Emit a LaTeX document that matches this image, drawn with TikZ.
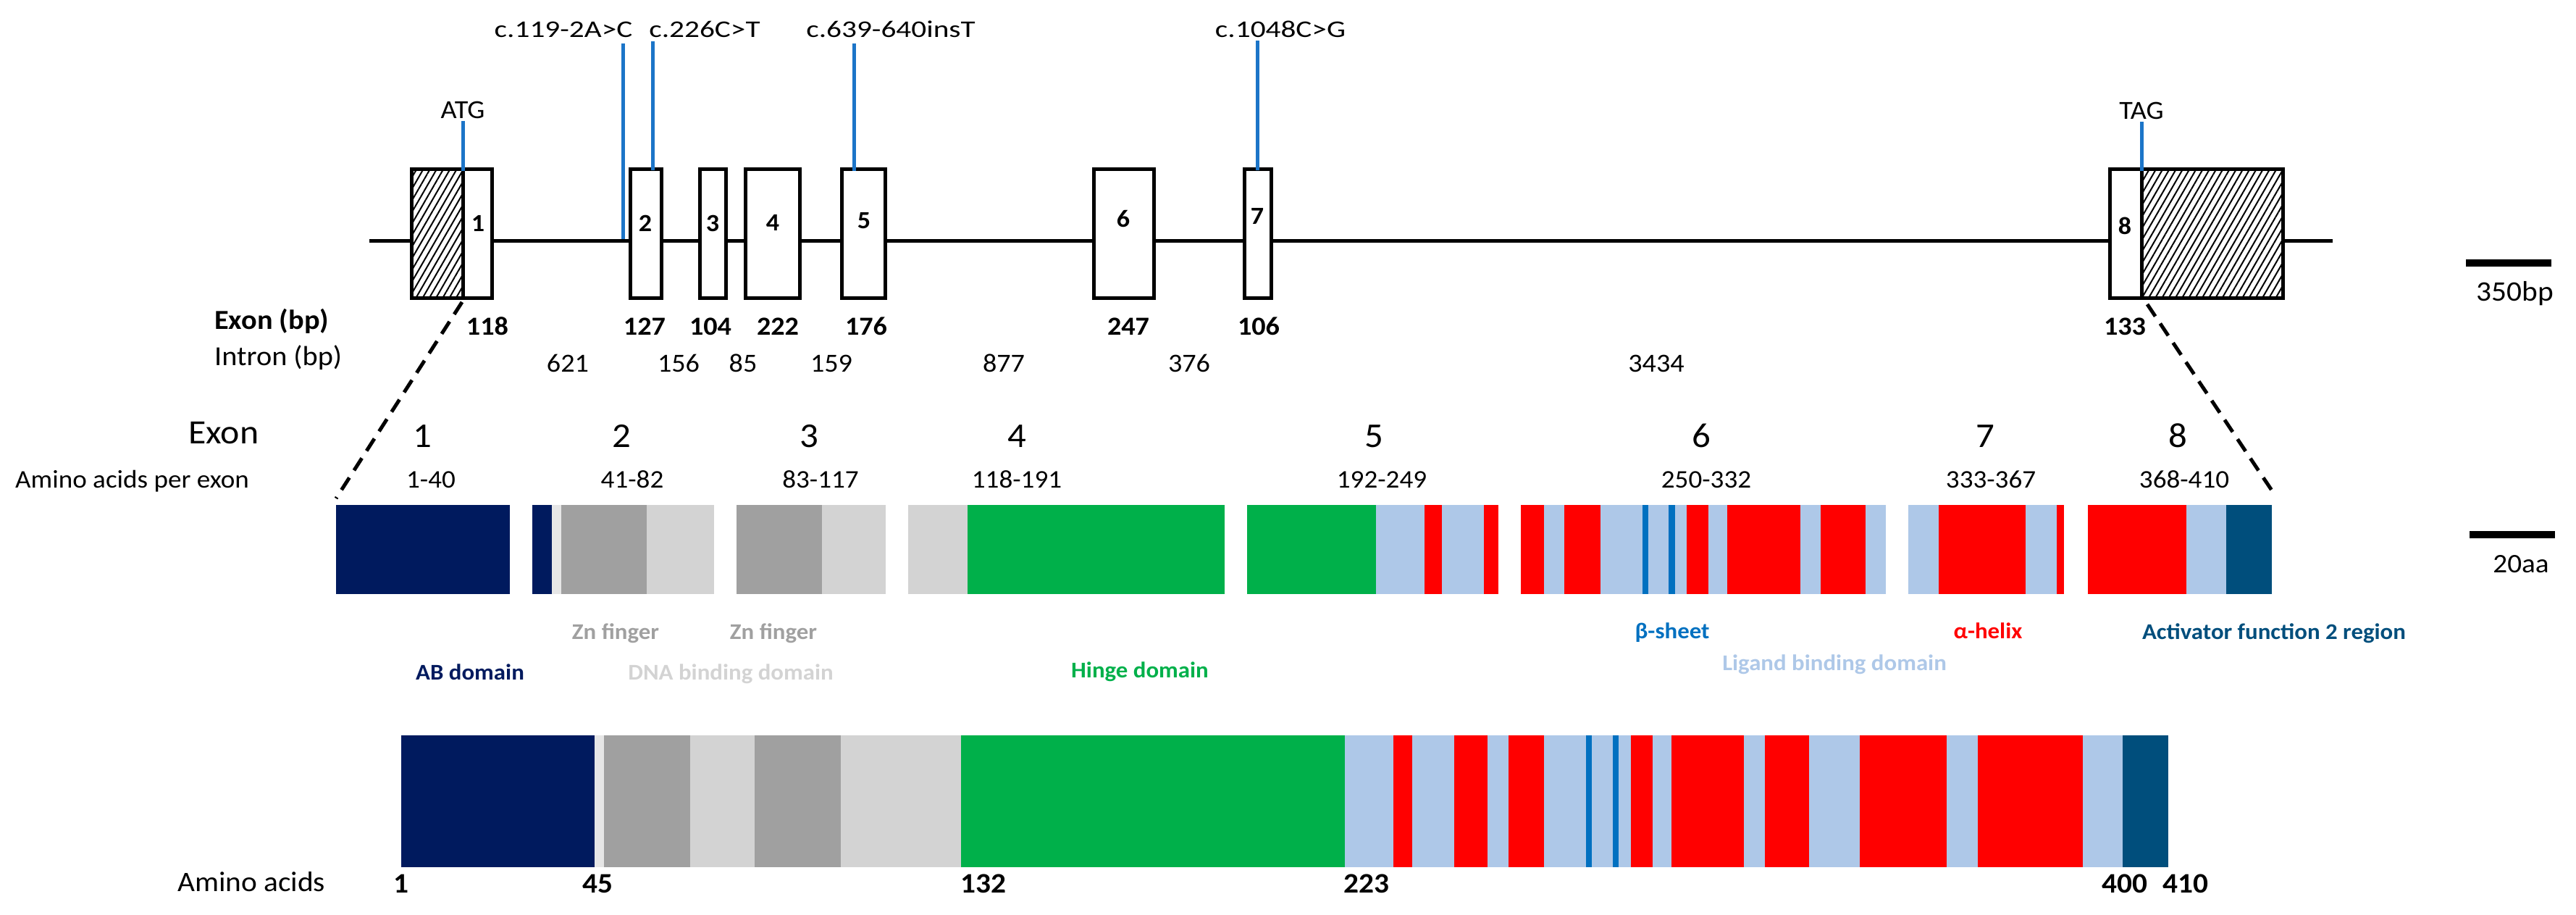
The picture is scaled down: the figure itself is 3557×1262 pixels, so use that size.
\documentclass[tikz,border=0pt]{standalone}
\usepackage{fontspec}
\setmainfont{Carlito}[FakeStretch=1.06]
\newfontfamily\mutfont{Carlito}[FakeStretch=1.25]
\usetikzlibrary{patterns.meta}
\definecolor{navy}{HTML}{001A5E}
\definecolor{dgrey}{HTML}{A0A0A0}
\definecolor{lgrey}{HTML}{D3D3D3}
\definecolor{vlgrey}{HTML}{E6E6E6}
\definecolor{hgreen}{HTML}{00B04A}
\definecolor{lblue}{HTML}{AEC8E8}
\definecolor{hred}{HTML}{FF0000}
\definecolor{bsheet}{HTML}{0070C0}
\definecolor{afteal}{HTML}{004E7C}
\definecolor{mutblue}{HTML}{1C75C8}
\newcommand{\fsz}[1]{\fontsize{#1}{#1}\selectfont}
\begin{document}
\begin{tikzpicture}[x=1pt,y=-1pt,
  lbl/.style={inner sep=0pt,anchor=base},
  lbll/.style={inner sep=0pt,anchor=base west},
  exonbox/.style={draw=black,line width=5pt,fill=white},
  hatchbox/.style={pattern={Lines[angle=60,distance=8pt,line width=2pt]},pattern color=black},
  mutline/.style={draw=mutblue,line width=5pt},
  zoomline/.style={draw=black,line width=5pt,dash pattern=on 20pt off 12pt},
  scalebar/.style={draw=black,line width=10pt},
  mut/.style={lbl,font=\mutfont\fsz{33}},
  boxnum/.style={lbl,font=\bfseries\fsz{34}},
  exbp/.style={lbl,font=\bfseries\fsz{36}},
  inbp/.style={lbl,font=\fsz{36}},
  exnum/.style={lbl,font=\fsz{48}},
  aarange/.style={lbl,font=\fsz{35}},
  legend/.style={lbl,font=\bfseries\fsz{31}},
  aanum/.style={lbl,font=\bfseries\fsz{39}}]
\useasboundingbox (0,0) rectangle (3557,1262);

% ---------- gene structure ----------
\coordinate (gstart) at (510,332);
\coordinate (gend) at (3221,332);
\draw[line width=5pt] (gstart) -- (gend);

% exon 1 with 5' UTR
\fill[white] (568,233) rectangle (639,411);
\fill[hatchbox] (568,233) rectangle (639,411);
\draw[line width=5pt] (568,233) rectangle (639,411);
\draw[exonbox] (639,233) rectangle (679,411);
% exons 2-7
\draw[exonbox] (870,233) rectangle (913,411);
\draw[exonbox] (966,233) rectangle (1002,411);
\draw[exonbox] (1029,233) rectangle (1104,411);
\draw[exonbox] (1162,233) rectangle (1222,411);
\draw[exonbox] (1510,233) rectangle (1593,411);
\draw[exonbox] (1718,233) rectangle (1755,411);
% exon 8 with 3' UTR
\draw[exonbox] (2913,233) rectangle (2957,411);
\fill[white] (2957,233) rectangle (3152,411);
\fill[hatchbox] (2957,233) rectangle (3152,411);
\draw[line width=5pt] (2957,233) rectangle (3152,411);

\node[boxnum] (n1) at (660,319) {1};
\node[boxnum] (n2) at (891,319) {2};
\node[boxnum] (n3) at (984,319) {3};
\node[boxnum] (n4) at (1067,318) {4};
\node[boxnum] (n5) at (1193,315) {5};
\node[boxnum] (n6) at (1551,313) {6};
\node[boxnum] (n7) at (1736,309) {7};
\node[boxnum] (n8) at (2934,323) {8};

% start / stop codons
\node[lbl,font=\fsz{36}] (atg) at (639,163) {ATG};
\node[lbl,font=\fsz{36}] (tag) at (2957,164) {TAG};
\coordinate (atgA) at (639,167); \coordinate (atgB) at (639,236);
\coordinate (tagA) at (2957,168); \coordinate (tagB) at (2957,236);
\draw[mutline] (atgA) -- (atgB);
\draw[mutline] (tagA) -- (tagB);

% mutations
\node[mut] (m1) at (778,51) {c.119-2A>C};
\node[mut] (m2) at (973,51) {c.226C>T};
\node[mut] (m3) at (1230,51) {c.639-640insT};
\node[mut] (m4) at (1768,51) {c.1048C>G};
\coordinate (m1a) at (860,60);  \coordinate (m1b) at (860,330);
\coordinate (m2a) at (901,57);  \coordinate (m2b) at (901,235);
\coordinate (m3a) at (1179,60); \coordinate (m3b) at (1179,236);
\coordinate (m4a) at (1736,56); \coordinate (m4b) at (1736,235);
\draw[mutline] (m1a) -- (m1b);
\draw[mutline] (m2a) -- (m2b);
\draw[mutline] (m3a) -- (m3b);
\draw[mutline] (m4a) -- (m4b);

% exon / intron sizes
\node[lbll,font=\bfseries\fsz{38}] (exbp) at (296,454) {Exon (bp)};
\node[lbll,font=\fsz{38}] (inbp) at (296,504) {Intron (bp)};
\node[exbp] (e1) at (673,462) {118};
\node[exbp] (e2) at (890,462) {127};
\node[exbp] (e3) at (981,462) {104};
\node[exbp] (e4) at (1074,462) {222};
\node[exbp] (e5) at (1196,462) {176};
\node[exbp] (e6) at (1558,462) {247};
\node[exbp] (e7) at (1738,462) {106};
\node[exbp] (e8) at (2934,462) {133};
\node[inbp] (i1) at (784,513) {621};
\node[inbp] (i2) at (937,513) {156};
\node[inbp] (i3) at (1026,513) {85};
\node[inbp] (i4) at (1148,513) {159};
\node[inbp] (i5) at (1386,513) {877};
\node[inbp] (i6) at (1642,513) {376};
\node[inbp] (i7) at (2287,513) {3434};

% scale bar 350bp
\coordinate (sb1a) at (3405,363); \coordinate (sb1b) at (3523,363);
\draw[scalebar] (sb1a) -- (sb1b);
\node[lbl,font=\fsz{39}] (sb1) at (3473,415) {350bp};

% zoom lines
\coordinate (zl1a) at (638,417); \coordinate (zl1b) at (464,688);
\coordinate (zl2a) at (2965,420); \coordinate (zl2b) at (3137,677);
\draw[zoomline] (zl1a) -- (zl1b);
\draw[zoomline] (zl2a) -- (zl2b);

% ---------- exon-wise protein ----------
\node[lbll,font=\fsz{47}] (exonhd) at (260,612) {Exon};
\node[exnum] (x1) at (583,617) {1};
\node[exnum] (x2) at (858,617) {2};
\node[exnum] (x3) at (1117,617) {3};
\node[exnum] (x4) at (1404,617) {4};
\node[exnum] (x5) at (1897,617) {5};
\node[exnum] (x6) at (2349,617) {6};
\node[exnum] (x7) at (2741,617) {7};
\node[exnum] (x8) at (3007,617) {8};

\node[lbll,font=\fsz{35}] (aapex) at (21,673) {Amino acids per exon};
\node[aarange] (r1) at (595,673) {1-40};
\node[aarange] (r2) at (873,673) {41-82};
\node[aarange] (r3) at (1133,673) {83-117};
\node[aarange] (r4) at (1404,673) {118-191};
\node[aarange] (r5) at (1908,673) {192-249};
\node[aarange] (r6) at (2356,673) {250-332};
\node[aarange] (r7) at (2749,673) {333-367};
\node[aarange] (r8) at (3016,673) {368-410};

\foreach \a/\b/\c in {464/704/navy,
  735/762/navy, 762/775/vlgrey, 775/893/dgrey, 893/986/lgrey,
  1017/1135/dgrey, 1135/1223/lgrey,
  1254/1336/lgrey, 1336/1691/hgreen,
  1722/1900/hgreen, 1900/1967/lblue, 1967/1991/hred, 1991/2049/lblue, 2049/2069/hred,
  2100/2132/hred, 2132/2160/lblue, 2160/2210/hred, 2210/2268/lblue, 2268/2276/bsheet,
  2276/2304/lblue, 2304/2313/bsheet, 2313/2329/lblue, 2329/2359/hred, 2359/2385/lblue,
  2385/2486/hred, 2486/2514/lblue, 2514/2576/hred, 2576/2604/lblue,
  2635/2677/lblue, 2677/2797/hred, 2797/2840/lblue, 2840/2850/hred,
  2883/3019/hred, 3019/3074/lblue, 3074/3137/afteal}
  \fill[\c] (\a,697) rectangle (\b,820);

% scale bar 20aa
\coordinate (sb2a) at (3410,738); \coordinate (sb2b) at (3528,738);
\draw[scalebar] (sb2a) -- (sb2b);
\node[lbl,font=\fsz{37}] (sb2) at (3481,790) {20aa};

% legend
\node[legend,text=dgrey] (zn1) at (850,882) {Zn finger};
\node[legend,text=dgrey] (zn2) at (1068,882) {Zn finger};
\node[legend,text=bsheet] (bs) at (2309,881) {β-sheet};
\node[legend,text=hred] (ah) at (2745,881) {α-helix};
\node[legend,text=afteal] (af2) at (3140,882) {Activator function 2 region};
\node[legend,text=navy] (abd) at (649,938) {AB domain};
\node[legend,text=lgrey] (dbd) at (1009,938) {DNA binding domain};
\node[legend,text=hgreen] (hd) at (1574,935) {Hinge domain};
\node[legend,text=lblue] (lbd) at (2533,925) {Ligand binding domain};

% ---------- full protein ----------
\foreach \a/\b/\c in {554/821/navy, 821/834/vlgrey, 834/953/dgrey, 953/1042/lgrey,
  1042/1161/dgrey, 1161/1327/lgrey, 1327/1857/hgreen,
  1857/1924/lblue, 1924/1950/hred, 1950/2008/lblue, 2008/2054/hred, 2054/2083/lblue,
  2083/2132/hred, 2132/2190/lblue, 2190/2198/bsheet, 2198/2227/lblue, 2227/2235/bsheet,
  2235/2252/lblue, 2252/2282/hred, 2282/2308/lblue, 2308/2408/hred, 2408/2437/lblue,
  2437/2498/hred, 2498/2568/lblue, 2568/2688/hred, 2688/2731/lblue, 2731/2876/hred,
  2876/2931/lblue, 2931/2994/afteal}
  \fill[\c] (\a,1015) rectangle (\b,1197);

\node[lbll,font=\fsz{39}] (aa) at (245,1230) {Amino acids};
\node[aanum] (p1) at (554,1232) {1};
\node[aanum] (p45) at (825,1232) {45};
\node[aanum] (p132) at (1358,1232) {132};
\node[aanum] (p223) at (1887,1232) {223};
\node[aanum] (p400) at (2934,1232) {400};
\node[aanum] (p410) at (3018,1232) {410};
\end{tikzpicture}
\end{document}
